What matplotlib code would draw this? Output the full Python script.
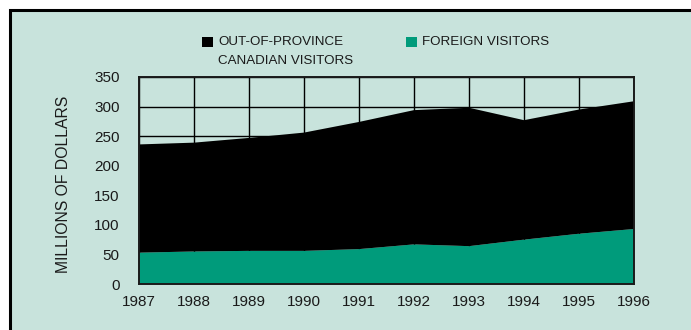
import matplotlib
matplotlib.use("Agg")
import matplotlib.pyplot as plt
from matplotlib.patches import Rectangle
from matplotlib.lines import Line2D

# === Data ===
years = [1987, 1988, 1989, 1990, 1991, 1992, 1993, 1994, 1995, 1996]
foreign = [53, 55, 56, 56, 59, 67, 64, 75, 85, 93]
total = [236, 239, 247, 256, 274, 294, 298, 277, 295, 309]
canadian = [t - f for t, f in zip(total, foreign)]

series_labels = ["OUT-OF-PROVINCE\nCANADIAN VISITORS", "FOREIGN VISITORS"]
y_ticks = [0, 50, 100, 150, 200, 250, 300, 350]

BG = "#c8e3dc"
GREEN = "#009b7b"
TXT = "#1a1a1a"

plt.rcParams["font.family"] = ["Liberation Sans", "DejaVu Sans"]

W, H = 691, 330
fig = plt.figure(figsize=(W / 100, H / 100), dpi=100, facecolor=BG)

# white margin strips + black frame on the left and top edges
fx0, fy1 = 10 / W, 1 - 10 / H
fig.patches.append(Rectangle((-0.1, -0.1), 0.1 + fx0, 1.2,
                             transform=fig.transFigure, facecolor="white",
                             edgecolor="none", zorder=0))
fig.patches.append(Rectangle((-0.1, fy1), 1.2, 0.2,
                             transform=fig.transFigure, facecolor="white",
                             edgecolor="none", zorder=0))
fig.lines.append(Line2D([fx0, fx0, 1.05], [-0.05, fy1, fy1],
                        transform=fig.transFigure, color="black",
                        linewidth=2.2, solid_joinstyle="miter"))

ax = fig.add_axes([139 / W, (H - 284) / H, 495 / W, 207 / H])
ax.set_facecolor(BG)
ax.set_zorder(1)

# grid behind the stacked areas
ax.set_axisbelow(True)
ax.grid(True, color="black", linewidth=1.0)

polys = ax.stackplot(years, foreign, canadian, colors=[GREEN, "black"],
                     linewidth=0, zorder=2)

ax.set_xlim(years[0], years[-1])
ax.set_ylim(0, 350)
ax.set_xticks(years)
ax.set_yticks(y_ticks)
ax.tick_params(axis="both", length=0, labelsize=11, colors=TXT)
ax.tick_params(axis="y", pad=14)
ax.tick_params(axis="x", pad=8)
for s in ax.spines.values():
    s.set_color("#1a1a1a")
    s.set_linewidth(1.4)
    s.set_zorder(3)

ax.set_ylabel("MILLIONS OF DOLLARS", fontsize=11.3, color=TXT)
ax.yaxis.set_label_coords(-(139 - 71) / 495, 0.48)

# legend, drawn by hand so the square sits on the first line
def px(x, y):
    return x / W, 1 - y / H

for (x0, color, label) in [(202, "black", series_labels[0]),
                           (406, GREEN, series_labels[1])]:
    sx, sy = px(x0, 47)
    fig.patches.append(Rectangle((sx, sy), 11 / W, 10 / H,
                                 transform=fig.transFigure, facecolor=color,
                                 edgecolor="none", zorder=2))
    tx, ty = px(x0 + 16, 36)
    fig.text(tx, ty, label, fontsize=9.6, color=TXT, va="top", ha="left",
             linespacing=1.75)

fig.savefig("out.png", dpi=100, facecolor=BG)
